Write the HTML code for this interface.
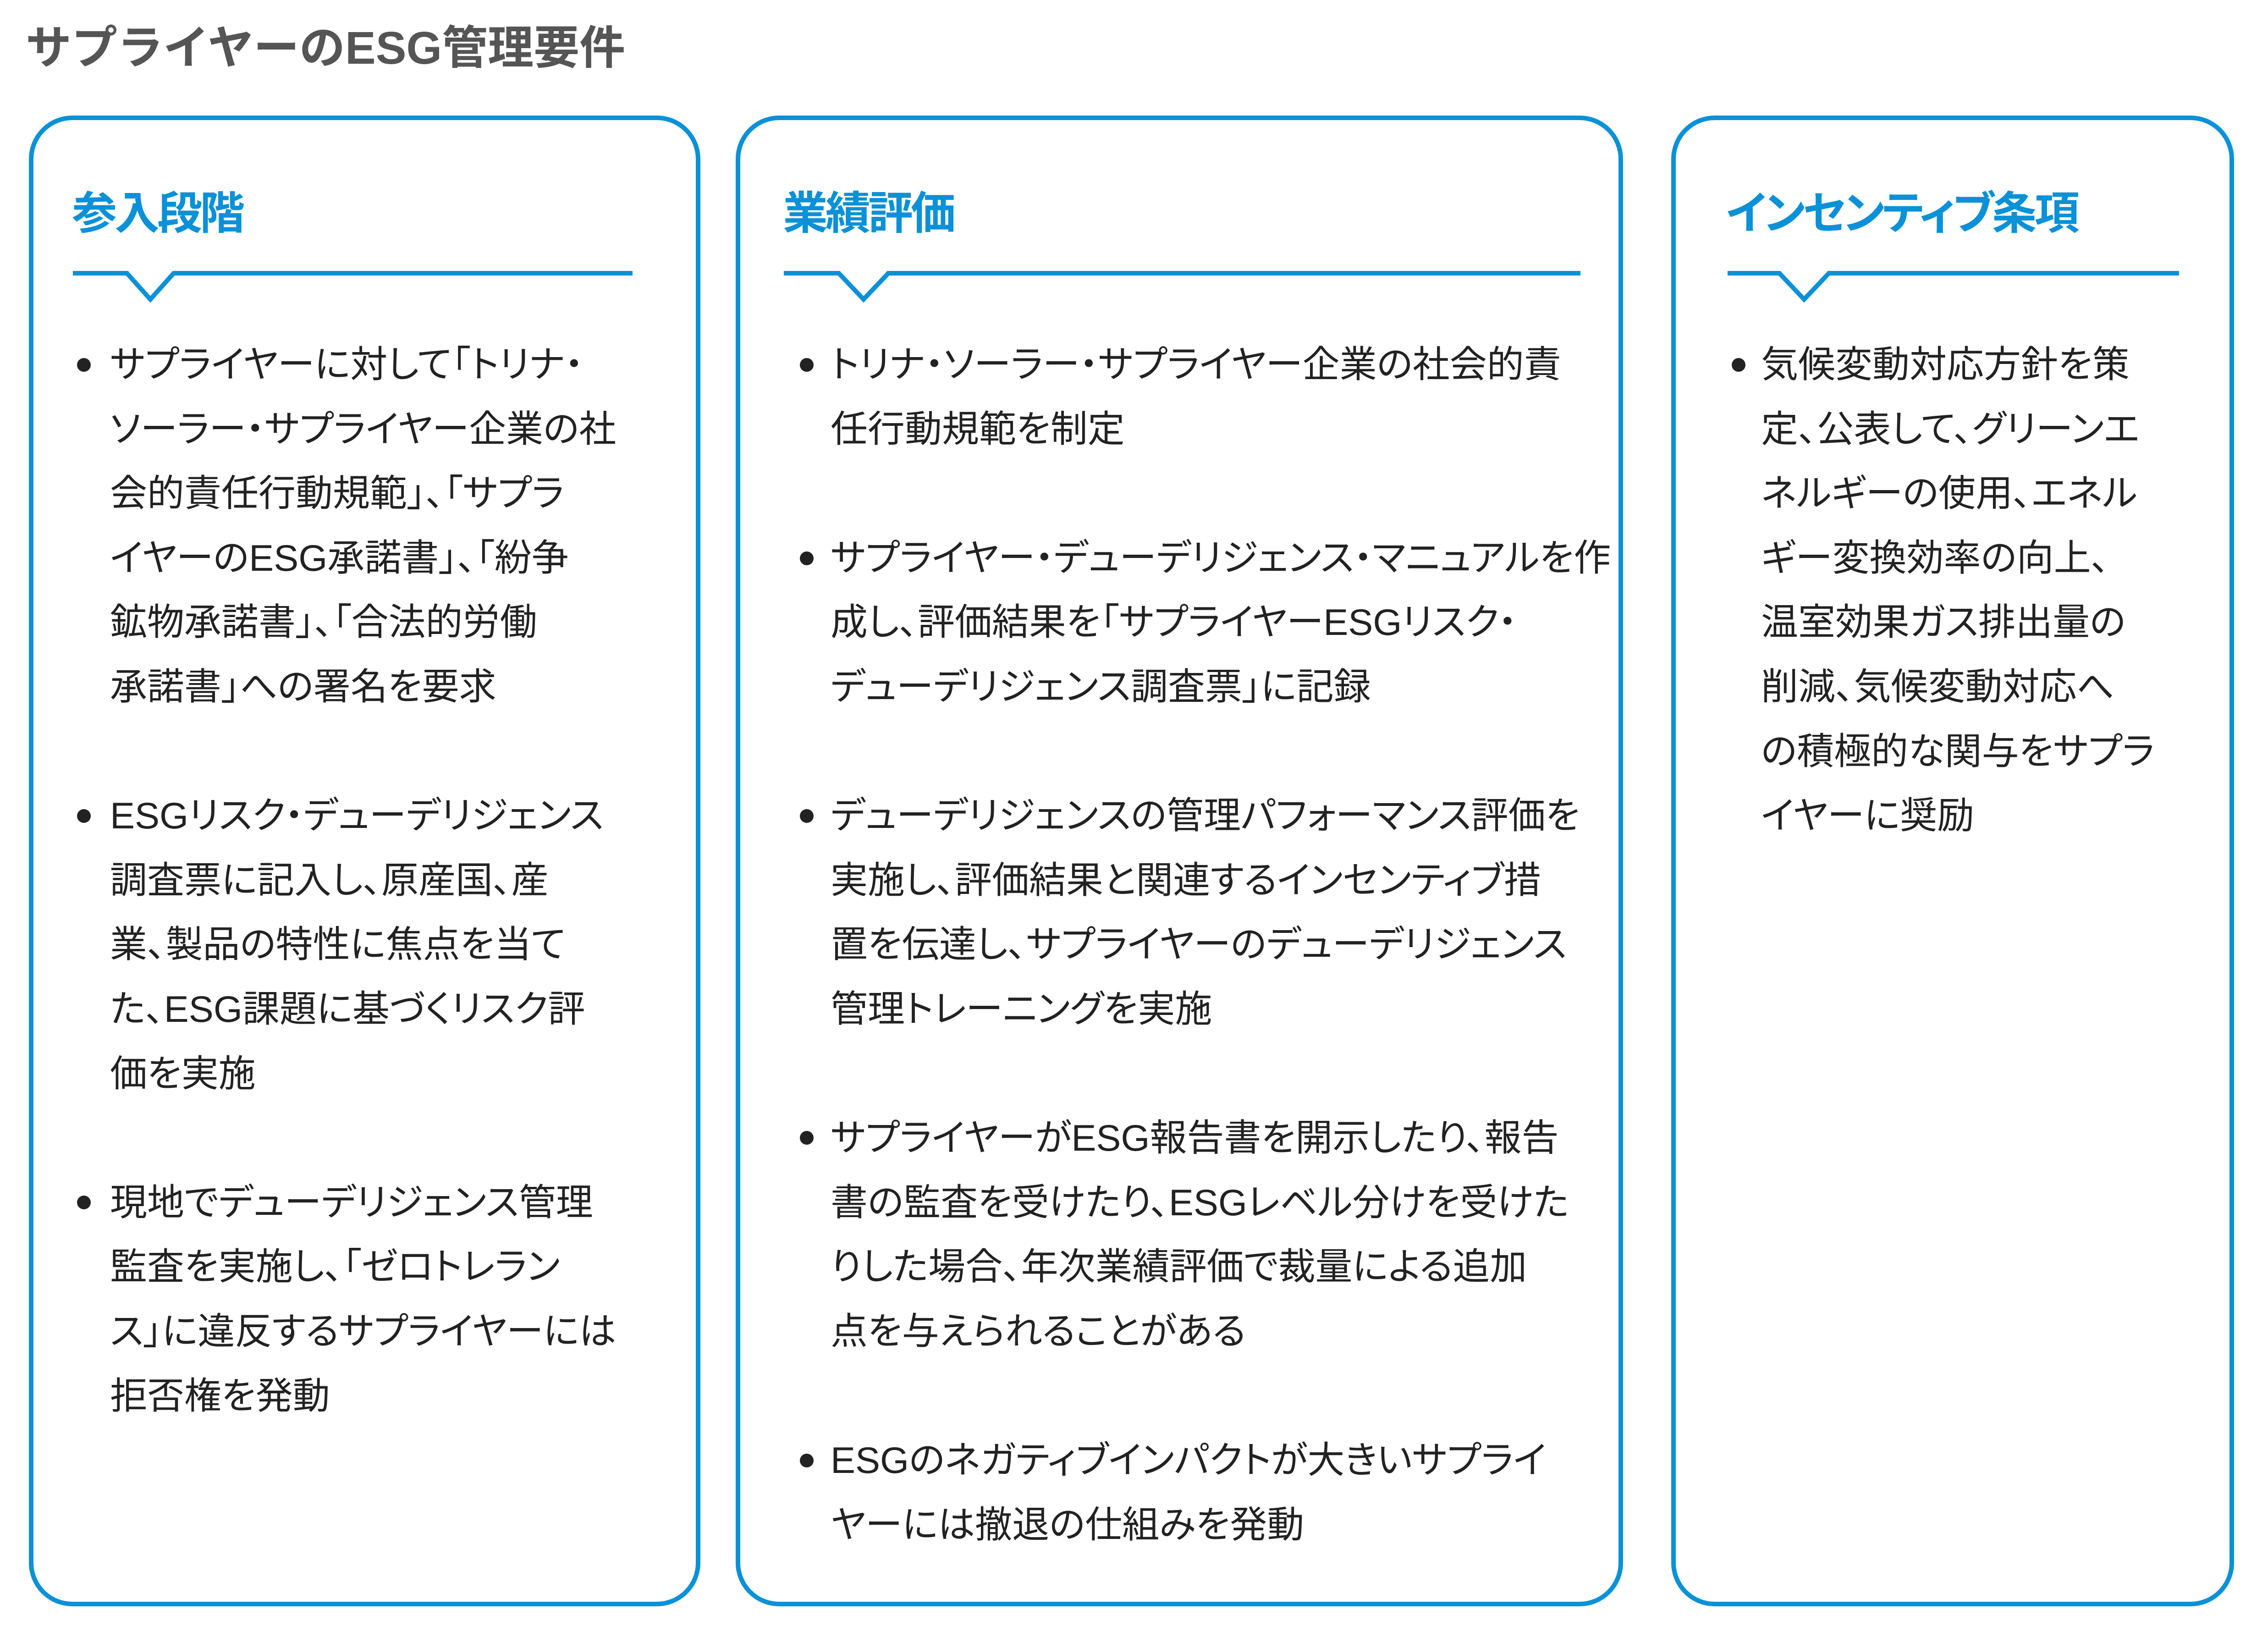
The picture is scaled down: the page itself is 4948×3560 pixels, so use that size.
<!DOCTYPE html>
<html><head><meta charset="utf-8">
<style>
html,body{margin:0;padding:0;background:#fff;}
body{width:4948px;height:3560px;position:relative;overflow:hidden;font-family:"Liberation Sans","Noto Sans CJK JP",sans-serif;}
.title{position:absolute;left:56px;top:40px;font-size:100px;font-weight:bold;color:#555;line-height:130px;white-space:nowrap;}
.box{position:absolute;top:252px;height:3252px;border:10px solid #0a91d7;border-radius:95px;box-sizing:border-box;}
.h{position:absolute;top:400px;font-size:98px;font-weight:bold;color:#0a91d7;line-height:130px;white-space:nowrap;font-feature-settings:"palt";letter-spacing:-5px;}
.txt{position:absolute;top:726px;font-size:81px;line-height:140.6px;color:#222;white-space:nowrap;font-feature-settings:"palt";}
.dot{position:absolute;width:30px;height:30px;border-radius:50%;background:#222;}
svg{position:absolute;left:0;top:0;}
</style></head><body>
<div class="title">サプライヤーのESG管理要件</div>
<div class="box" style="left:63px;width:1465px;"></div>
<div class="box" style="left:1605px;width:1936px;"></div>
<div class="box" style="left:3646px;width:1228px;"></div>
<svg width="4948" height="3560">
<g fill="none" stroke="#0a91d7" stroke-width="10">
<polyline points="159,596 277,596 328,653 379,596 1380,596"/>
<polyline points="1710,596 1830,596 1884,653 1938,596 3448,596"/>
<polyline points="3769,596 3882,596 3936,653 3990,596 4754,596"/>
</g>
</svg>
<div class="h" style="left:157px;">参入段階</div>
<div class="h" style="left:1708px;">業績評価</div>
<div class="h" style="left:3766px;">インセンティブ条項</div>

<div class="dot" style="left:168px;top:781px;"></div>
<div class="dot" style="left:168px;top:1765px;"></div>
<div class="dot" style="left:168px;top:2608px;"></div>
<div class="txt" style="left:240px;">サプライヤーに対して「トリナ・<br>ソーラー・サプライヤー企業の社<br>会的責任行動規範」、「サプラ<br>イヤーのESG承諾書」、「紛争<br>鉱物承諾書」、「合法的労働<br>承諾書」への署名を要求<br>&nbsp;<br>ESGリスク・デューデリジェンス<br>調査票に記入し、原産国、産<br>業、製品の特性に焦点を当て<br>た、ESG課題に基づくリスク評<br>価を実施<br>&nbsp;<br>現地でデューデリジェンス管理<br>監査を実施し、「ゼロトレラン<br>ス」に違反するサプライヤーには<br>拒否権を発動</div>

<div class="dot" style="left:1745px;top:781px;"></div>
<div class="dot" style="left:1745px;top:1203px;"></div>
<div class="dot" style="left:1745px;top:1765px;"></div>
<div class="dot" style="left:1745px;top:2467px;"></div>
<div class="dot" style="left:1745px;top:3171px;"></div>
<div class="txt" style="left:1812px;">トリナ・ソーラー・サプライヤー企業の社会的責<br>任行動規範を制定<br>&nbsp;<br>サプライヤー・デューデリジェンス・マニュアルを作<br>成し、評価結果を「サプライヤーESGリスク・<br>デューデリジェンス調査票」に記録<br>&nbsp;<br>デューデリジェンスの管理パフォーマンス評価を<br>実施し、評価結果と関連するインセンティブ措<br>置を伝達し、サプライヤーのデューデリジェンス<br>管理トレーニングを実施<br>&nbsp;<br>サプライヤーがESG報告書を開示したり、報告<br>書の監査を受けたり、ESGレベル分けを受けた<br>りした場合、年次業績評価で裁量による追加<br>点を与えられることがある<br>&nbsp;<br>ESGのネガティブインパクトが大きいサプライ<br>ヤーには撤退の仕組みを発動</div>

<div class="dot" style="left:3778px;top:781px;"></div>
<div class="txt" style="left:3842px;">気候変動対応方針を策<br>定、公表して、グリーンエ<br>ネルギーの使用、エネル<br>ギー変換効率の向上、<br>温室効果ガス排出量の<br>削減、気候変動対応へ<br>の積極的な関与をサプラ<br>イヤーに奨励</div>
</body></html>
